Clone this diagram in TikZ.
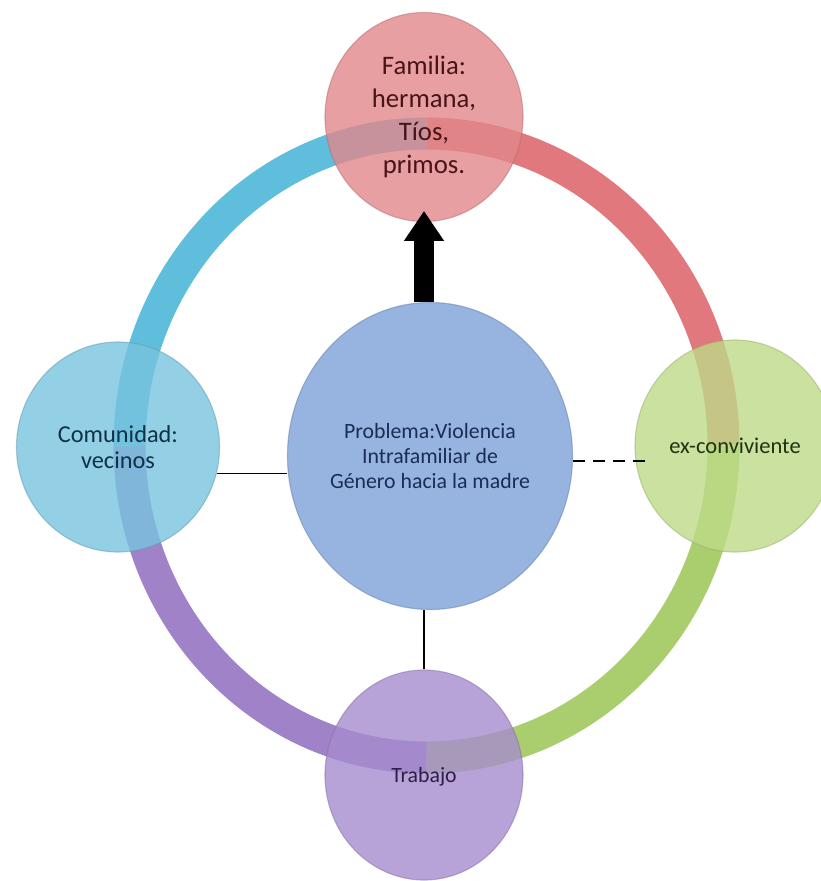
\documentclass[tikz,border=0pt]{standalone}
\usepackage{fontspec}
\setmainfont{Carlito}
\usetikzlibrary{shapes.geometric, arrows.meta}

\definecolor{famred}{HTML}{E1878B}
\definecolor{comcyan}{HTML}{78C3DE}
\definecolor{probblue}{HTML}{7DA0D7}
\definecolor{exgreen}{HTML}{BEDA87}
\definecolor{trabpurple}{HTML}{A58CCD}
\definecolor{ringred}{HTML}{E1787D}
\definecolor{ringcyan}{HTML}{5FBEDC}
\definecolor{ringgreen}{HTML}{AACD6E}
\definecolor{ringpurple}{HTML}{A082C8}

\begin{document}
\begin{tikzpicture}[x=0.025cm, y=-0.025cm,
    ring/.style={line width=0.8cm, draw=#1},
    bubble/.style={ellipse, draw=#1!80!black, draw opacity=0.5, line width=0.8pt,
      fill=#1, fill opacity=0.8, text opacity=1, inner sep=0pt, align=center},
    link/.style={line width=1.2pt}]
  \useasboundingbox (0,0) rectangle (821,881);

  % ring round the problem
  \coordinate (O) at (426.5,445.5);
  \draw[ring=ringred] (O) ++(270:297 and 312) arc[start angle=270, end angle=360, x radius=297, y radius=312];
  \draw[ring=ringgreen] (O) ++(0:297 and 312) arc[start angle=0, end angle=90, x radius=297, y radius=312];
  \draw[ring=ringpurple] (O) ++(90:297 and 312) arc[start angle=90, end angle=180, x radius=297, y radius=312];
  \draw[ring=ringcyan] (O) ++(180:297 and 312) arc[start angle=180, end angle=270, x radius=297, y radius=312];

  \node[bubble=famred, minimum width=4.95cm, minimum height=5.225cm, text={rgb,255:red,70;green,20;blue,25},
    font=\fontsize{19}{23.5}\selectfont] (F) at (424,117) {Familia:\\hermana,\\Tíos,\\primos.};
  \node[bubble=comcyan, minimum width=5.075cm, minimum height=5.25cm, text={rgb,255:red,15;green,50;blue,75},
    font=\fontsize{17.3}{18.5}\selectfont] (C) at (118,447) {Comunidad:\\vecinos};
  \node[bubble=probblue, minimum width=7.125cm, minimum height=7.675cm, text={rgb,255:red,25;green,45;blue,85},
    font=\fontsize{15.5}{17.8}\selectfont] (P) at (430,456) {Problema:Violencia\\Intrafamiliar de\\Género hacia la madre};
  \node[bubble=exgreen, minimum width=5cm, minimum height=5.3cm, text={rgb,255:red,30;green,50;blue,15},
    font=\fontsize{16}{19}\selectfont] (X) at (735,446) {ex-conviviente};
  \node[bubble=trabpurple, minimum width=4.95cm, minimum height=5.25cm, text={rgb,255:red,45;green,30;blue,70},
    font=\fontsize{15.5}{18}\selectfont] (T) at (424,775) {\raisebox{-0.9em}{Trabajo}};

  \draw[link] (C.-15) -- (C.-15 -| P.west);
  \draw[link, dash pattern=on 8.5pt off 5.7pt, shorten >=-0.3cm] (P.-2) -- (P.-2 -| X.west);
  \draw[link] (P.south -| T.north) -- (T.north);
  \draw[line width=0.5cm, -{Triangle[width=0.95cm, length=0.75cm]}, shorten >=-0.28cm] (F.south |- P.north) -- (F.south);
\end{tikzpicture}
\end{document}
